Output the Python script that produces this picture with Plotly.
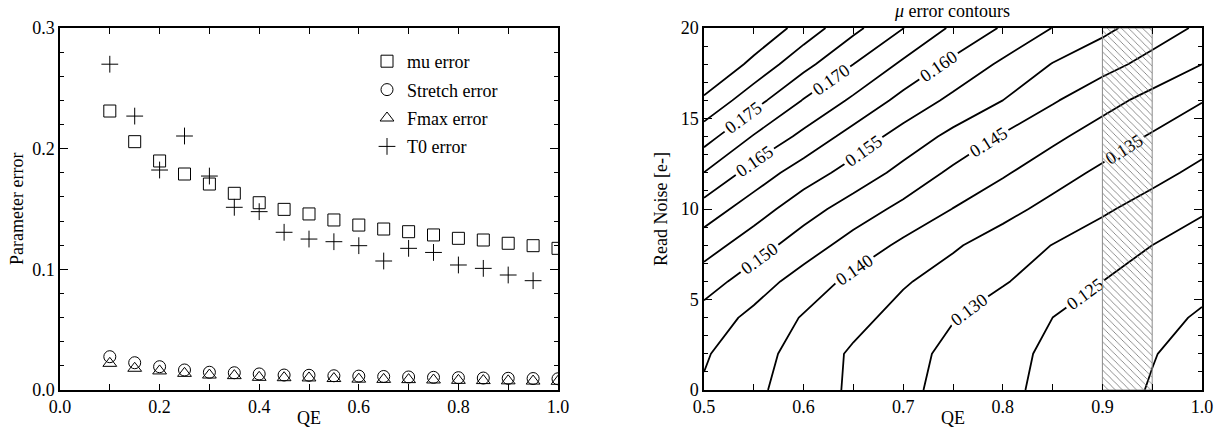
import plotly.graph_objects as go

# ---------------- left panel data ----------------
qe = [0.10, 0.15, 0.20, 0.25, 0.30, 0.35, 0.40, 0.45, 0.50, 0.55,
      0.60, 0.65, 0.70, 0.75, 0.80, 0.85, 0.90, 0.95, 1.00]
mu_err = [0.2312, 0.2058, 0.1898, 0.1790, 0.1707, 0.1630, 0.1552, 0.1497, 0.1459, 0.1409,
          0.1367, 0.1334, 0.1312, 0.1285, 0.1257, 0.1243, 0.1216, 0.1196, 0.1174]
stretch_err = [0.0276, 0.0226, 0.0193, 0.0166, 0.0147, 0.0143, 0.0133, 0.0124, 0.0122, 0.0118,
               0.0115, 0.0112, 0.0108, 0.0105, 0.0102, 0.0099, 0.0097, 0.0095, 0.0093]
fmax_err = [0.0221, 0.0180, 0.0158, 0.0138, 0.0124, 0.0119, 0.0105, 0.0102, 0.0100, 0.0095,
            0.0090, 0.0088, 0.0086, 0.0083, 0.0080, 0.0078, 0.0076, 0.0074, 0.0072]
t0_err = [0.2700, 0.2270, 0.1823, 0.2105, 0.1773, 0.1514, 0.1478, 0.1307, 0.1251, 0.1229,
          0.1196, 0.1069, 0.1174, 0.1140, 0.1036, 0.1008, 0.0953, 0.0906, None]

# ---------------- right panel data ----------------
qe_grid = [0.50, 0.55, 0.60, 0.65, 0.70, 0.75, 0.80, 0.85, 0.90, 0.95, 1.00]
rn_grid = [0, 2, 4, 6, 8, 10, 12, 14, 16, 18, 20]
mu_grid = [
    [0.1445, 0.1410, 0.1375, 0.1342, 0.1311, 0.1284, 0.1260, 0.1238, 0.1217, 0.1197, 0.1177],
    [0.1455, 0.1419, 0.1380, 0.1343, 0.1315, 0.1289, 0.1264, 0.1241, 0.1222, 0.1202, 0.1184],
    [0.1479, 0.1437, 0.1396, 0.1365, 0.1333, 0.1302, 0.1276, 0.1250, 0.1232, 0.1213, 0.1195],
    [0.1523, 0.1475, 0.1428, 0.1387, 0.1355, 0.1329, 0.1304, 0.1277, 0.1250, 0.1231, 0.1212],
    [0.1573, 0.1523, 0.1475, 0.1430, 0.1390, 0.1356, 0.1327, 0.1299, 0.1275, 0.1250, 0.1231],
    [0.1628, 0.1574, 0.1521, 0.1477, 0.1437, 0.1399, 0.1366, 0.1335, 0.1307, 0.1281, 0.1255],
    [0.1699, 0.1629, 0.1575, 0.1530, 0.1485, 0.1440, 0.1406, 0.1371, 0.1340, 0.1315, 0.1288],
    [0.1771, 0.1696, 0.1637, 0.1580, 0.1530, 0.1487, 0.1445, 0.1411, 0.1377, 0.1345, 0.1320],
    [0.1841, 0.1769, 0.1697, 0.1641, 0.1584, 0.1538, 0.1500, 0.1455, 0.1418, 0.1384, 0.1352],
    [0.1906, 0.1836, 0.1766, 0.1700, 0.1641, 0.1588, 0.1541, 0.1498, 0.1467, 0.1434, 0.1400],
    [0.1958, 0.1894, 0.1829, 0.1763, 0.1701, 0.1642, 0.1595, 0.1549, 0.1512, 0.1475, 0.1441],
]
band_x = [0.90, 0.95]
band_y = [0, 20]

FONT = "Liberation Serif"
FS = 18

fig = go.Figure()

series = [
    ("mu error", mu_err, "square-open", 12),
    ("Stretch error", stretch_err, "circle-open", 12),
    ("Fmax error", fmax_err, "triangle-up-open", 12),
    ("T0 error", t0_err, "cross-thin-open", 12),
]
for name, vals, sym, sz in series:
    fig.add_trace(go.Scatter(
        x=qe, y=vals, mode="markers", name=name, legendgroup=name,
        marker=dict(symbol=sym, size=sz, color="black", line=dict(color="black", width=1)),
        xaxis="x", yaxis="y"))

fig.add_trace(go.Contour(
    x=qe_grid, y=rn_grid, z=mu_grid, xaxis="x2", yaxis="y2",
    showscale=False, showlegend=False,
    colorscale=[[0, "black"], [1, "black"]],
    contours=dict(start=0.120, end=0.185, size=0.005, coloring="lines",
                  showlabels=True, labelformat=".3f",
                  labelfont=dict(family=FONT, size=FS, color="black")),
    line=dict(color="black", width=1.8, smoothing=0),
    hoverinfo="skip"))

fig.add_trace(go.Scatter(
    x=[band_x[0], band_x[1], band_x[1], band_x[0], band_x[0]],
    y=[band_y[0], band_y[0], band_y[1], band_y[1], band_y[0]],
    mode="lines", fill="toself", fillcolor="rgba(0,0,0,0)",
    fillpattern=dict(shape="\\", fgcolor="#6a6a6a", bgcolor="rgba(0,0,0,0)",
                     size=5, solidity=0.15),
    line=dict(color="#8a8a8a", width=1),
    showlegend=False, xaxis="x2", yaxis="y2", hoverinfo="skip"))

axis_common = dict(showline=True, linecolor="black", linewidth=1.5, mirror="ticks",
                   ticks="inside", tickcolor="black", showgrid=False, zeroline=False,
                   automargin=False,
                   tickfont=dict(family=FONT, size=FS, color="black"))


def note(text, x, y, angle=0):
    return dict(text=text, x=x / 1222, y=1 - y / 430, xref="paper", yref="paper",
                xanchor="center", yanchor="middle", textangle=angle, showarrow=False,
                font=dict(family=FONT, size=FS, color="black"))


ydom = [40 / 430, 402 / 430]
fig.update_layout(
    template="none",
    width=1222, height=430,
    margin=dict(l=0, r=0, t=0, b=0, pad=0),
    paper_bgcolor="white", plot_bgcolor="white",
    font=dict(family=FONT, size=FS, color="black"),
    xaxis=dict(domain=[60 / 1222, 558 / 1222], range=[0, 1], dtick=0.2, tickformat=".1f",
               ticklen=6, minor=dict(dtick=0.1, ticks="inside", ticklen=6, tickcolor="black"),
               anchor="y", **axis_common),
    yaxis=dict(domain=ydom, range=[0, 0.3], dtick=0.1, tickformat=".1f",
               ticklen=8, minor=dict(dtick=0.02, ticks="inside", ticklen=4, tickcolor="black"),
               anchor="x", **axis_common),
    xaxis2=dict(domain=[704 / 1222, 1202 / 1222], range=[0.5, 1.0], dtick=0.1, tickformat=".1f",
                ticklen=6, minor=dict(dtick=0.05, ticks="inside", ticklen=6, tickcolor="black"),
                anchor="y2", **axis_common),
    yaxis2=dict(domain=ydom, range=[0, 20], dtick=5,
                ticklen=8, minor=dict(dtick=1, ticks="inside", ticklen=4, tickcolor="black"),
                anchor="x2", **axis_common),
    legend=dict(x=367 / 1222, y=1 - 43 / 430, xanchor="left", yanchor="top",
                bgcolor="rgba(0,0,0,0)", borderwidth=0, tracegroupgap=2,
                font=dict(family=FONT, size=FS, color="black")),
    showlegend=True,
    annotations=[
        note("Parameter error", 17, 209, -90),
        note("QE", 309, 418),
        note("Read Noise [e-]", 661, 209, -90),
        note("QE", 953, 418),
        note("<i>μ</i> error contours", 952, 11),
    ],
)

fig.write_html("out.html")
